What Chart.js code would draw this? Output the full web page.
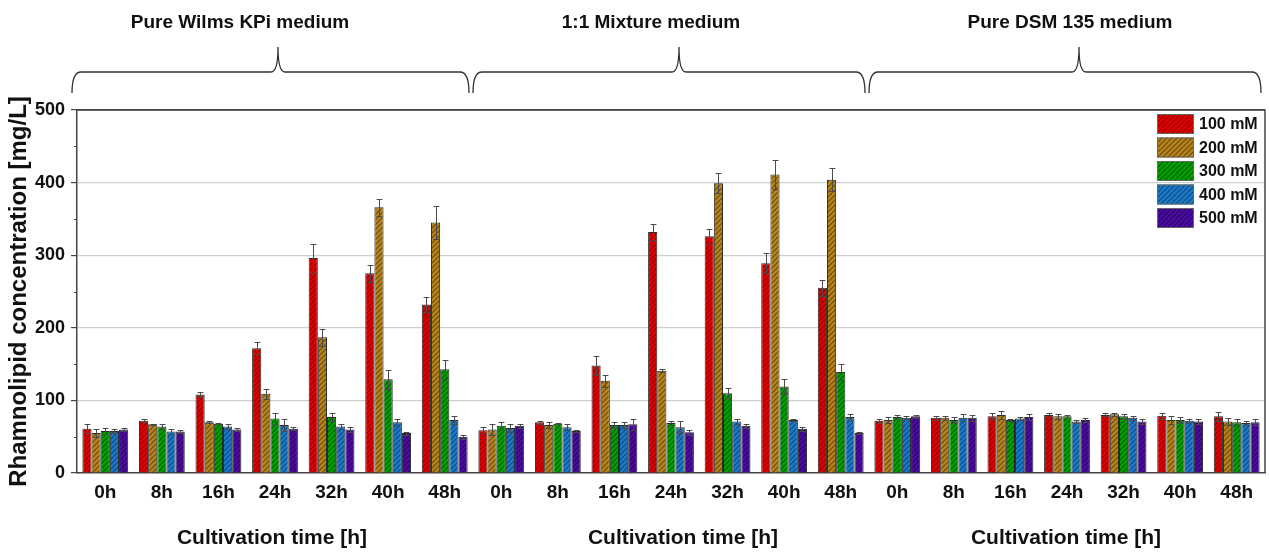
<!DOCTYPE html>
<html>
<head>
<meta charset="utf-8">
<title>Rhamnolipid concentration</title>
<script src="https://cdn.jsdelivr.net/npm/chart.js@4.4.1/dist/chart.umd.min.js"></script>
<style>
    html, body { margin: 0; padding: 0; background: #fff; }
    #chart { display: block; }
</style>
</head>
<body>
<canvas id="chart" width="1269" height="552"></canvas>
<script>
// Données
const media = ['Pure Wilms KPi medium', '1:1 Mixture medium', 'Pure DSM 135 medium'];
const times = ['0h', '8h', '16h', '24h', '32h', '40h', '48h'];
const seriesLabels = ['100 mM', '200 mM', '300 mM', '400 mM', '500 mM'];

// Concentration en rhamnolipides [mg/L], 3 milieux x 7 temps
const c100 = [61, 72, 108, 172, 296, 275, 232,   59, 70, 148, 332, 326, 289, 255,   72, 76, 78, 80, 80, 79, 78];
const c200 = [55, 67, 70, 109, 187, 366, 345,    60, 66, 127, 141, 399, 411, 404,   73, 76, 80, 78, 81, 73, 71];
const c300 = [58, 64, 68, 75, 77, 129, 143,      65, 68, 66, 69, 110, 119, 139,     77, 73, 73, 78, 78, 73, 70];
const c400 = [58, 57, 64, 66, 64, 70, 73,        62, 63, 66, 63, 71, 73, 77,        76, 76, 75, 71, 76, 72, 69];
const c500 = [60, 57, 60, 61, 60, 55, 50,        65, 58, 67, 56, 65, 61, 55,        78, 76, 77, 73, 71, 71, 70];

// Écarts-types (barres d'erreur)
const e100 = [6, 2, 3, 8, 20, 12, 10,   4, 2, 13, 11, 10, 14, 11,   3, 3, 4, 3, 2, 4, 6];
const e200 = [5, 1, 1, 7, 12, 12, 23,   8, 4, 8, 2, 14, 20, 16,     4, 3, 5, 3, 2, 6, 5];
const e300 = [4, 4, 1, 7, 5, 13, 13,    5, 1, 4, 3, 7, 10, 11,      3, 4, 2, 2, 3, 4, 4];
const e400 = [3, 3, 4, 8, 4, 5, 6,      5, 4, 4, 8, 3, 2, 4,        2, 5, 2, 2, 3, 3, 3];
const e500 = [2, 2, 2, 2, 3, 2, 3,      3, 1, 8, 3, 3, 3, 1,        2, 4, 4, 3, 3, 3, 4];

const yTicks = [0, 100, 200, 300, 400, 500];
const xTitle = 'Cultivation time [h]';
const yTitle = 'Rhamnolipid concentration [mg/L]';

// Catégories : les 7 temps répétés pour chaque milieu
const categories = media.flatMap(() => times);

// Styles
const FONT = "'Liberation Sans', Arial, Helvetica, sans-serif";
const TEXT = '#111';
const AXIS = '#444';
const baseColors = ['#e20000', '#b8841c', '#00a200', '#1c7ac8', '#4c0ca0'];
const stripeColors = ['#8e0000', '#6a4a0a', '#005c00', '#0c4a82', '#2a0566'];
const mediaLabelShift = [-35, -20, 3];
const xTitleShift = [-3, 12, -1];
const braceTipShift = [3, 8, 12];

Chart.defaults.font.family = FONT;

// Motif hachuré pour les barres
function makeHatch(base, stripe) {
    const s = 5;
    const c = document.createElement('canvas');
    c.width = s;
    c.height = s;
    const g = c.getContext('2d');
    g.fillStyle = base;
    g.fillRect(0, 0, s, s);
    g.strokeStyle = stripe;
    g.lineWidth = 1.1;
    g.beginPath();
    g.moveTo(0, s); g.lineTo(s, 0);
    g.moveTo(-1, 1); g.lineTo(1, -1);
    g.moveTo(s - 1, s + 1); g.lineTo(s + 1, s - 1);
    g.stroke();
    return g.createPattern(c, 'repeat');
}

const values = [c100, c200, c300, c400, c500];
const errors = [e100, e200, e300, e400, e500];

const datasets = seriesLabels.map((label, i) => ({
    label: label,
    data: values[i],
    errors: errors[i],
    backgroundColor: makeHatch(baseColors[i], stripeColors[i]),
    borderColor: '#2a2a2a',
    borderWidth: 1,
    categoryPercentage: 0.81,
    barPercentage: 1.0
}));

// Accolade au-dessus de chaque milieu
function drawBrace(ctx, x0, x1, xm, yBottom, yMid, yTip) {
    ctx.beginPath();
    ctx.moveTo(x0, yBottom);
    ctx.quadraticCurveTo(x0, yMid, x0 + 9, yMid);
    ctx.lineTo(xm - 7, yMid);
    ctx.quadraticCurveTo(xm, yMid, xm, yTip);
    ctx.quadraticCurveTo(xm, yMid, xm + 7, yMid);
    ctx.lineTo(x1 - 9, yMid);
    ctx.quadraticCurveTo(x1, yMid, x1, yBottom);
    ctx.stroke();
}

const decorPlugin = {
    id: 'decor',
    afterDatasetsDraw(chart) {
        const ctx = chart.ctx;
        const y = chart.scales.y;
        ctx.save();
        ctx.strokeStyle = '#4a4a4a';
        ctx.lineWidth = 1;
        chart.data.datasets.forEach((ds, di) => {
            const meta = chart.getDatasetMeta(di);
            meta.data.forEach((bar, i) => {
                const v = ds.data[i];
                const e = ds.errors[i];
                const yTop = Math.round(y.getPixelForValue(v + e)) + 0.5;
                const yBot = Math.round(y.getPixelForValue(v - e)) + 0.5;
                const x = Math.round(bar.x) + 0.5;
                const cap = Math.max(2, bar.width * 0.32);
                ctx.beginPath();
                ctx.moveTo(x, yTop); ctx.lineTo(x, yBot);
                ctx.moveTo(x - cap, yTop); ctx.lineTo(x + cap, yTop);
                ctx.moveTo(x - cap, yBot); ctx.lineTo(x + cap, yBot);
                ctx.stroke();
            });
        });
        ctx.restore();
    },
    afterDraw(chart) {
        const ctx = chart.ctx;
        const area = chart.chartArea;
        const y = chart.scales.y;
        ctx.save();

        // Cadre : bord supérieur et bord droit
        ctx.strokeStyle = AXIS;
        ctx.lineWidth = 1.5;
        ctx.beginPath();
        ctx.moveTo(area.left, area.top);
        ctx.lineTo(area.right, area.top);
        ctx.lineTo(area.right, area.bottom);
        ctx.stroke();

        // Graduations secondaires de l'axe Y
        ctx.lineWidth = 1;
        for (let i = 0; i < yTicks.length - 1; i++) {
            const py = Math.round(y.getPixelForValue((yTicks[i] + yTicks[i + 1]) / 2)) + 0.5;
            ctx.beginPath();
            ctx.moveTo(area.left - 3, py);
            ctx.lineTo(area.left, py);
            ctx.stroke();
        }

        // Accolades, noms des milieux et titres de l'axe X
        const n = times.length;
        const catW = (area.right - area.left) / categories.length;
        media.forEach((name, g) => {
            const gx0 = area.left + g * n * catW;
            const gx1 = gx0 + n * catW;
            const center = (gx0 + gx1) / 2;

            ctx.strokeStyle = '#333';
            ctx.lineWidth = 1.3;
            drawBrace(ctx, gx0 + (g === 0 ? -5 : 0), gx1 - 4, center + braceTipShift[g], 93, 72, 47);

            ctx.fillStyle = TEXT;
            ctx.textAlign = 'center';
            ctx.textBaseline = 'alphabetic';
            ctx.font = 'bold 19px ' + FONT;
            ctx.fillText(name, center + mediaLabelShift[g], 28);

            ctx.font = 'bold 21px ' + FONT;
            ctx.fillText(xTitle, center + xTitleShift[g], 544);
        });

        // Légende dans le coin supérieur droit
        ctx.font = 'bold 16px ' + FONT;
        ctx.textAlign = 'left';
        ctx.textBaseline = 'middle';
        chart.data.datasets.forEach((ds, i) => {
            const bx = area.right - 108;
            const by = area.top + 4 + i * 23.5;
            ctx.fillStyle = ds.backgroundColor;
            ctx.fillRect(bx, by, 37, 20);
            ctx.strokeStyle = '#666';
            ctx.lineWidth = 1;
            ctx.strokeRect(bx + 0.5, by + 0.5, 36, 19);
            ctx.fillStyle = TEXT;
            ctx.fillText(ds.label, bx + 42, by + 11);
        });

        ctx.restore();
    }
};

const chart = new Chart(document.getElementById('chart'), {
    type: 'bar',
    data: {
        labels: categories,
        datasets: datasets
    },
    options: {
        responsive: false,
        animation: false,
        devicePixelRatio: 1,
        layout: { padding: { top: 110, right: 4, left: 0, bottom: 0 } },
        plugins: {
            legend: { display: false },
            tooltip: { enabled: false }
        },
        scales: {
            x: {
                grid: { display: false, drawTicks: false },
                border: { display: true, color: AXIS, width: 1.5 },
                ticks: {
                    color: TEXT,
                    font: { size: 19, weight: 'bold' },
                    padding: 8,
                    maxRotation: 0,
                    autoSkip: false
                },
                afterFit: function(scale) { scale.height = 79; }
            },
            y: {
                min: yTicks[0],
                max: yTicks[yTicks.length - 1],
                afterBuildTicks: function(scale) {
                    scale.ticks = yTicks.map(v => ({ value: v }));
                },
                ticks: {
                    color: TEXT,
                    font: { size: 18, weight: 'bold' },
                    padding: 6
                },
                grid: {
                    color: function(ctx) {
                        const v = ctx.tick ? ctx.tick.value : null;
                        if (v === 0) return 'rgba(0,0,0,0)';
                        if (v === 500) return AXIS;
                        return '#cfcfcf';
                    },
                    tickColor: AXIS,
                    tickLength: 6,
                    lineWidth: 1.2
                },
                border: { display: true, color: AXIS, width: 1.5 },
                title: {
                    display: true,
                    text: yTitle,
                    color: TEXT,
                    font: { size: 24, weight: 'bold' },
                    padding: { top: 5, bottom: 0 }
                },
                afterFit: function(scale) { scale.width = 77; }
            }
        }
    },
    plugins: [decorPlugin]
});
</script>
</body>
</html>
